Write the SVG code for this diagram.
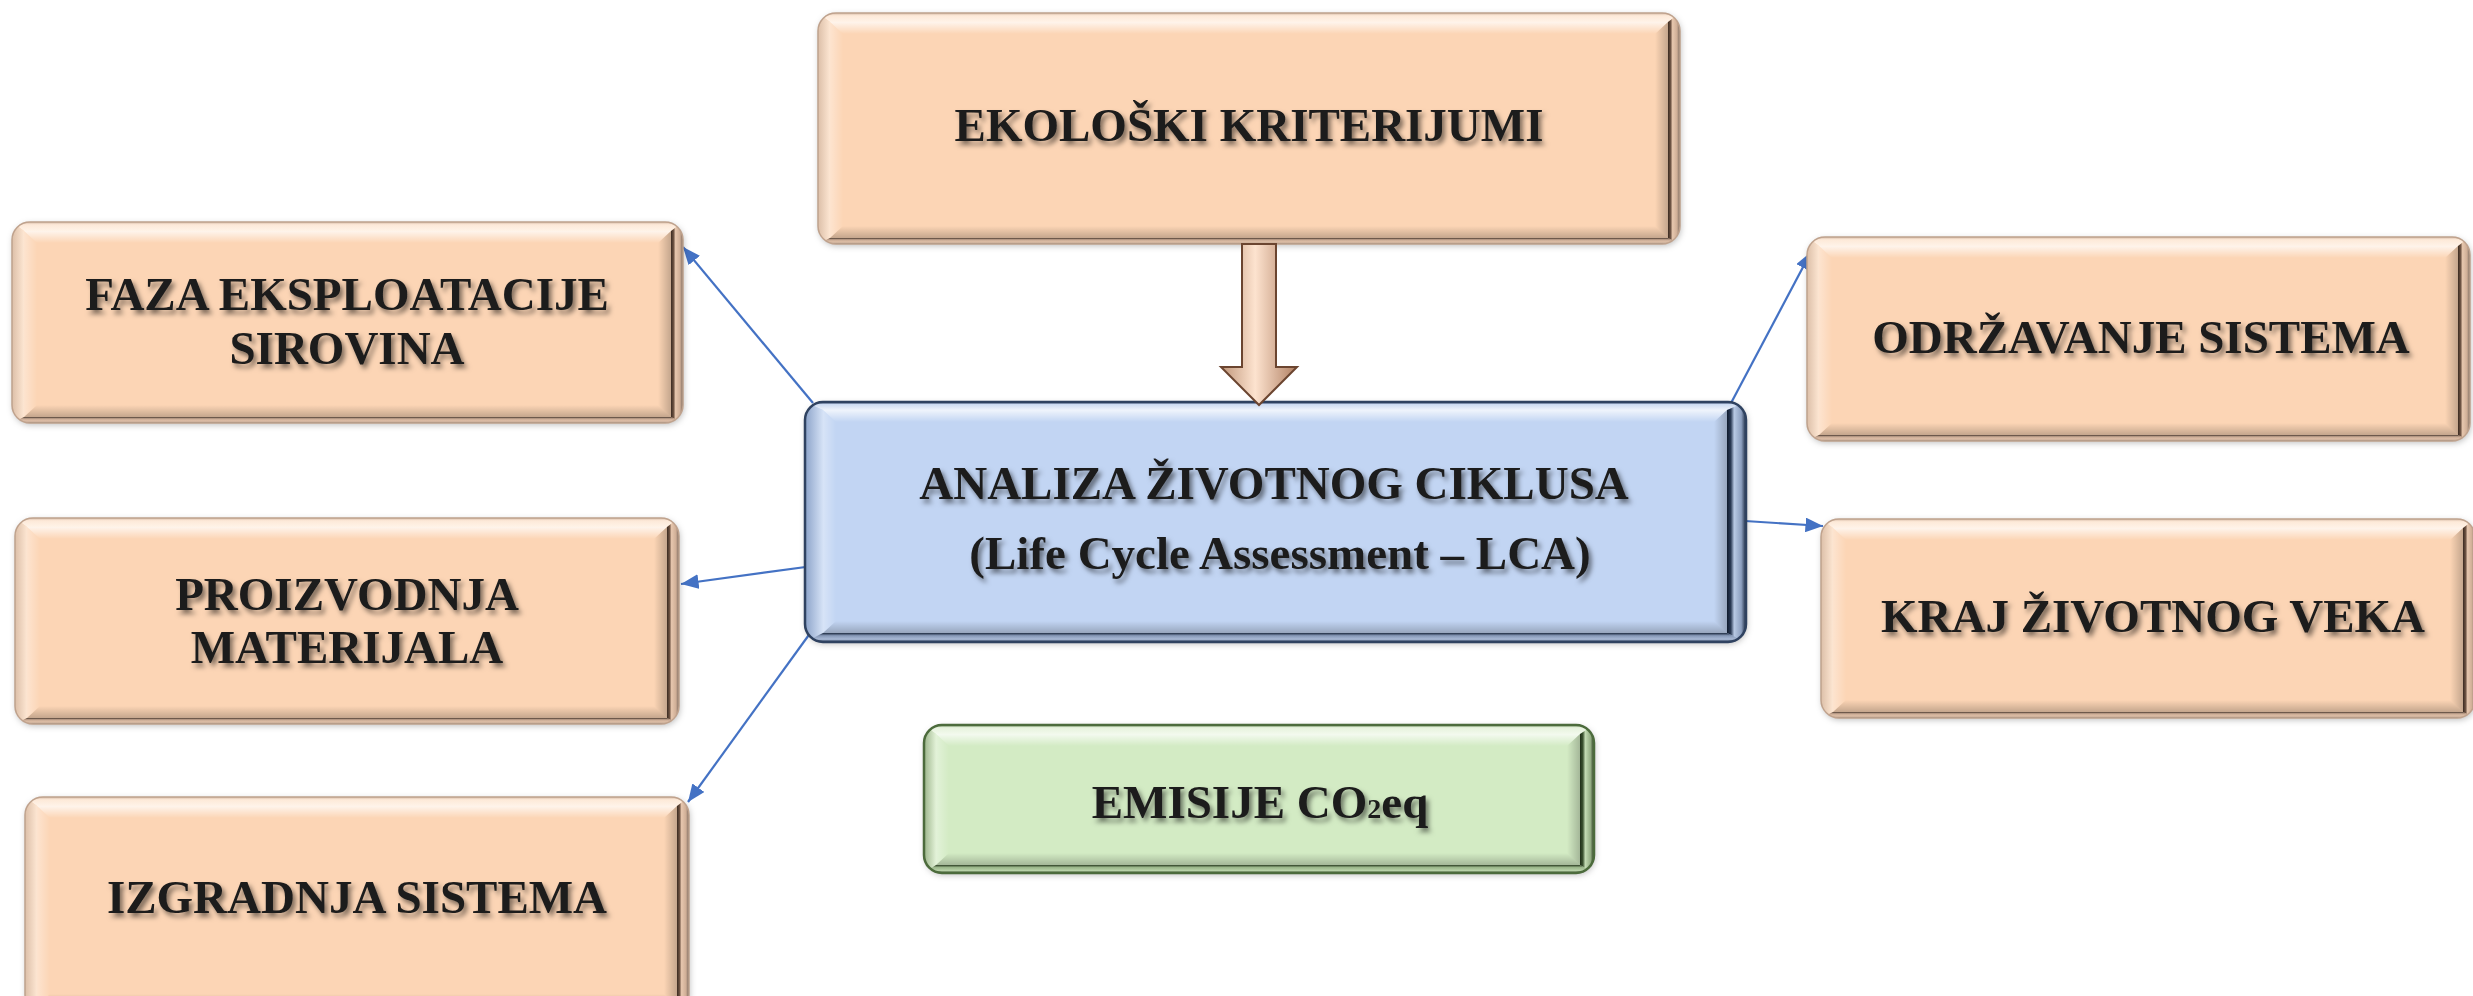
<svg xmlns="http://www.w3.org/2000/svg" width="2473" height="996" viewBox="0 0 2473 996">
  <style>
    .label { font-family: "Liberation Serif", "Times New Roman", serif; font-weight: bold; font-size: 47px; fill: #1b1b1b; text-anchor: middle; filter: url(#textShadow); }
    .link { stroke: #4472C4; stroke-width: 2.2; fill: none; marker-end: url(#arrow); }
    .frame { filter: url(#boxShadow); }
    .it { fill: url(#iTop); } .il { fill: url(#iLeft); }
    .ir { fill: url(#iRight); } .ib { fill: url(#iBottom); }
    .peach .frame, .peach .face { fill: #FCD5B5; }
    .peach .ft { fill: url(#pTop); } .peach .fl { fill: url(#pLeft); }
    .peach .fr { fill: url(#pRight); } .peach .fb { fill: url(#pBottom); }
    .peach .rim { fill: none; stroke: #bfa28d; stroke-width: 1.5; }
    .blue .frame, .blue .face { fill: #C2D5F3; }
    .blue .ft { fill: url(#bTop); } .blue .fl { fill: url(#bLeft); }
    .blue .fr { fill: url(#bRight); } .blue .fb { fill: url(#bBottom); }
    .blue .rim { fill: none; stroke: #2f4260; stroke-width: 2.5; }
    .green .frame, .green .face { fill: #D3EBC4; }
    .green .ft { fill: url(#gTop); } .green .fl { fill: url(#gLeft); }
    .green .fr { fill: url(#gRight); } .green .fb { fill: url(#gBottom); }
    .green .rim { fill: none; stroke: #4c6b3c; stroke-width: 2.5; }
  </style>
  <defs>
    <filter id="textShadow" x="-5%" y="-20%" width="110%" height="150%">
      <feDropShadow dx="3" dy="4" stdDeviation="2.5" flood-color="#000" flood-opacity="0.5"/>
    </filter>
    <filter id="boxShadow" x="-5%" y="-5%" width="110%" height="115%">
      <feDropShadow dx="1" dy="2" stdDeviation="3" flood-color="#000" flood-opacity="0.25"/>
    </filter>
    <marker id="arrow" viewBox="0 0 12 10" refX="12" refY="5" markerWidth="8" markerHeight="6.7" orient="auto" markerUnits="strokeWidth">
      <path d="M0,0 L12,5 L0,10 z" fill="#4472C4"/>
    </marker>
    <!-- inner pillow shading, shared by every colour -->
    <linearGradient id="iTop" x1="0" y1="0" x2="0" y2="1"><stop offset="0" stop-color="#fff" stop-opacity="0.75"/><stop offset="1" stop-color="#fff" stop-opacity="0"/></linearGradient>
    <linearGradient id="iLeft" x1="0" y1="0" x2="1" y2="0"><stop offset="0" stop-color="#fff" stop-opacity="0.35"/><stop offset="1" stop-color="#fff" stop-opacity="0"/></linearGradient>
    <linearGradient id="iRight" x1="0" y1="0" x2="1" y2="0"><stop offset="0" stop-color="#000" stop-opacity="0"/><stop offset="1" stop-color="#000" stop-opacity="0.22"/></linearGradient>
    <linearGradient id="iBottom" x1="0" y1="0" x2="0" y2="1"><stop offset="0" stop-color="#000" stop-opacity="0"/><stop offset="1" stop-color="#000" stop-opacity="0.22"/></linearGradient>
    <!-- bevel faces: peach -->
    <linearGradient id="pTop" x1="0" y1="0" x2="0" y2="1"><stop offset="0" stop-color="#d8bca8"/><stop offset="0.3" stop-color="#fde9d8"/><stop offset="1" stop-color="#fff3e8"/></linearGradient>
    <linearGradient id="pLeft" x1="0" y1="0" x2="1" y2="0"><stop offset="0" stop-color="#dcbfa8"/><stop offset="1" stop-color="#fde6d2"/></linearGradient>
    <linearGradient id="pRight" x1="0" y1="0" x2="1" y2="0"><stop offset="0" stop-color="#3a2a20"/><stop offset="0.22" stop-color="#6e5444"/><stop offset="0.38" stop-color="#e7c7ae"/><stop offset="0.75" stop-color="#cfae96"/><stop offset="1" stop-color="#75655b"/></linearGradient>
    <linearGradient id="pBottom" x1="0" y1="0" x2="0" y2="1"><stop offset="0" stop-color="#4a3a30"/><stop offset="0.3" stop-color="#c9aa94"/><stop offset="0.7" stop-color="#e0c0a8"/><stop offset="1" stop-color="#8a7a70"/></linearGradient>
    <!-- bevel faces: blue -->
    <linearGradient id="bTop" x1="0" y1="0" x2="0" y2="1"><stop offset="0" stop-color="#41567a"/><stop offset="0.3" stop-color="#cddbf1"/><stop offset="1" stop-color="#eef3fb"/></linearGradient>
    <linearGradient id="bLeft" x1="0" y1="0" x2="1" y2="0"><stop offset="0" stop-color="#8ca3c9"/><stop offset="1" stop-color="#d5e2f6"/></linearGradient>
    <linearGradient id="bRight" x1="0" y1="0" x2="1" y2="0"><stop offset="0" stop-color="#0f1a2c"/><stop offset="0.2" stop-color="#2a3a55"/><stop offset="0.38" stop-color="#b8c9e4"/><stop offset="0.75" stop-color="#8c9fbf"/><stop offset="1" stop-color="#1c2a40"/></linearGradient>
    <linearGradient id="bBottom" x1="0" y1="0" x2="0" y2="1"><stop offset="0" stop-color="#1c2a40"/><stop offset="0.3" stop-color="#8799b8"/><stop offset="0.7" stop-color="#a9bad6"/><stop offset="1" stop-color="#2a3a55"/></linearGradient>
    <!-- bevel faces: green -->
    <linearGradient id="gTop" x1="0" y1="0" x2="0" y2="1"><stop offset="0" stop-color="#9cb58b"/><stop offset="0.3" stop-color="#e6f2dd"/><stop offset="1" stop-color="#f2f9ec"/></linearGradient>
    <linearGradient id="gLeft" x1="0" y1="0" x2="1" y2="0"><stop offset="0" stop-color="#9cb58b"/><stop offset="1" stop-color="#e2f1d7"/></linearGradient>
    <linearGradient id="gRight" x1="0" y1="0" x2="1" y2="0"><stop offset="0" stop-color="#1e2d16"/><stop offset="0.2" stop-color="#3b5230"/><stop offset="0.38" stop-color="#c3dbb3"/><stop offset="0.75" stop-color="#93ad83"/><stop offset="1" stop-color="#2b3d22"/></linearGradient>
    <linearGradient id="gBottom" x1="0" y1="0" x2="0" y2="1"><stop offset="0" stop-color="#2b3d22"/><stop offset="0.3" stop-color="#9ab68a"/><stop offset="0.7" stop-color="#b9d2a9"/><stop offset="1" stop-color="#3b5230"/></linearGradient>
    <!-- block arrow shading -->
    <linearGradient id="blockArrow" x1="0" y1="0" x2="1" y2="0"><stop offset="0" stop-color="#c0967a"/><stop offset="0.45" stop-color="#fde3cf"/><stop offset="1" stop-color="#b07f62"/></linearGradient>
    <!-- rounded outlines used to clip the bevels -->
    <clipPath id="c-eko"><rect x="818" y="13" width="862" height="231" rx="18"/></clipPath>
    <clipPath id="c-faza"><rect x="12" y="222" width="671" height="201" rx="18"/></clipPath>
    <clipPath id="c-proiz"><rect x="15" y="518" width="664" height="206" rx="18"/></clipPath>
    <clipPath id="c-izgr"><rect x="25" y="797" width="664" height="215" rx="18"/></clipPath>
    <clipPath id="c-lca"><rect x="805" y="402" width="941" height="240" rx="18"/></clipPath>
    <clipPath id="c-odrz"><rect x="1807" y="237" width="663" height="204" rx="18"/></clipPath>
    <clipPath id="c-kraj"><rect x="1821" y="519" width="654" height="199" rx="18"/></clipPath>
    <clipPath id="c-emis"><rect x="924" y="725" width="670" height="148" rx="18"/></clipPath>
  </defs>

  <rect width="2473" height="996" fill="#ffffff"/>

  <!-- connectors from the central analysis box -->
  <g id="connectors">
    <line class="link" x1="813" y1="403" x2="683" y2="247"/>
    <line class="link" x1="813" y1="566" x2="681" y2="584"/>
    <line class="link" x1="811" y1="632" x2="688" y2="802"/>
    <line class="link" x1="1730" y1="405" x2="1811" y2="252"/>
    <line class="link" x1="1745" y1="521" x2="1823" y2="526"/>
  </g>

  <g id="node-eko" class="node peach">
    <rect class="frame" x="818" y="13" width="862" height="231" rx="18"/>
    <g clip-path="url(#c-eko)">
      <polygon class="ft" points="818,13 1680,13 1668,22 830,22"/>
      <polygon class="fl" points="818,13 830,22 830,238 818,244"/>
      <polygon class="fr" points="1680,13 1680,244 1668,238 1668,22"/>
      <polygon class="fb" points="818,244 1680,244 1668,238 830,238"/>
    </g>
    <rect class="face" x="830" y="22" width="838" height="216"/>
    <polygon class="it" points="830,22 1668,22 1655,34 843,34"/>
    <polygon class="il" points="830,22 843,34 843,226 830,238"/>
    <polygon class="ir" points="1668,22 1668,238 1655,226 1655,34"/>
    <polygon class="ib" points="830,238 1668,238 1655,226 843,226"/>
    <rect class="rim" x="818" y="13" width="862" height="231" rx="18"/>
    <text class="label" x="1249" y="141">EKOLOŠKI KRITERIJUMI</text>
  </g>

  <g id="node-faza" class="node peach">
    <rect class="frame" x="12" y="222" width="671" height="201" rx="18"/>
    <g clip-path="url(#c-faza)">
      <polygon class="ft" points="12,222 683,222 671,231 24,231"/>
      <polygon class="fl" points="12,222 24,231 24,417 12,423"/>
      <polygon class="fr" points="683,222 683,423 671,417 671,231"/>
      <polygon class="fb" points="12,423 683,423 671,417 24,417"/>
    </g>
    <rect class="face" x="24" y="231" width="647" height="186"/>
    <polygon class="it" points="24,231 671,231 658,243 37,243"/>
    <polygon class="il" points="24,231 37,243 37,405 24,417"/>
    <polygon class="ir" points="671,231 671,417 658,405 658,243"/>
    <polygon class="ib" points="24,417 671,417 658,405 37,405"/>
    <rect class="rim" x="12" y="222" width="671" height="201" rx="18"/>
    <text class="label" x="347" y="310">FAZA EKSPLOATACIJE</text>
    <text class="label" x="347" y="364">SIROVINA</text>
  </g>

  <g id="node-proiz" class="node peach">
    <rect class="frame" x="15" y="518" width="664" height="206" rx="18"/>
    <g clip-path="url(#c-proiz)">
      <polygon class="ft" points="15,518 679,518 667,527 27,527"/>
      <polygon class="fl" points="15,518 27,527 27,718 15,724"/>
      <polygon class="fr" points="679,518 679,724 667,718 667,527"/>
      <polygon class="fb" points="15,724 679,724 667,718 27,718"/>
    </g>
    <rect class="face" x="27" y="527" width="640" height="191"/>
    <polygon class="it" points="27,527 667,527 654,539 40,539"/>
    <polygon class="il" points="27,527 40,539 40,706 27,718"/>
    <polygon class="ir" points="667,527 667,718 654,706 654,539"/>
    <polygon class="ib" points="27,718 667,718 654,706 40,706"/>
    <rect class="rim" x="15" y="518" width="664" height="206" rx="18"/>
    <text class="label" x="347" y="610">PROIZVODNJA</text>
    <text class="label" x="347" y="663">MATERIJALA</text>
  </g>

  <g id="node-izgr" class="node peach">
    <rect class="frame" x="25" y="797" width="664" height="215" rx="18"/>
    <g clip-path="url(#c-izgr)">
      <polygon class="ft" points="25,797 689,797 677,806 37,806"/>
      <polygon class="fl" points="25,797 37,806 37,1006 25,1012"/>
      <polygon class="fr" points="689,797 689,1012 677,1006 677,806"/>
      <polygon class="fb" points="25,1012 689,1012 677,1006 37,1006"/>
    </g>
    <rect class="face" x="37" y="806" width="640" height="200"/>
    <polygon class="it" points="37,806 677,806 664,818 50,818"/>
    <polygon class="il" points="37,806 50,818 50,994 37,1006"/>
    <polygon class="ir" points="677,806 677,1006 664,994 664,818"/>
    <polygon class="ib" points="37,1006 677,1006 664,994 50,994"/>
    <rect class="rim" x="25" y="797" width="664" height="215" rx="18"/>
    <text class="label" x="357" y="913">IZGRADNJA SISTEMA</text>
  </g>

  <g id="node-odrz" class="node peach">
    <rect class="frame" x="1807" y="237" width="663" height="204" rx="18"/>
    <g clip-path="url(#c-odrz)">
      <polygon class="ft" points="1807,237 2470,237 2458,246 1819,246"/>
      <polygon class="fl" points="1807,237 1819,246 1819,435 1807,441"/>
      <polygon class="fr" points="2470,237 2470,441 2458,435 2458,246"/>
      <polygon class="fb" points="1807,441 2470,441 2458,435 1819,435"/>
    </g>
    <rect class="face" x="1819" y="246" width="639" height="189"/>
    <polygon class="it" points="1819,246 2458,246 2445,258 1832,258"/>
    <polygon class="il" points="1819,246 1832,258 1832,423 1819,435"/>
    <polygon class="ir" points="2458,246 2458,435 2445,423 2445,258"/>
    <polygon class="ib" points="1819,435 2458,435 2445,423 1832,423"/>
    <rect class="rim" x="1807" y="237" width="663" height="204" rx="18"/>
    <text class="label" x="2141" y="353">ODRŽAVANJE SISTEMA</text>
  </g>

  <g id="node-kraj" class="node peach">
    <rect class="frame" x="1821" y="519" width="654" height="199" rx="18"/>
    <g clip-path="url(#c-kraj)">
      <polygon class="ft" points="1821,519 2475,519 2463,528 1833,528"/>
      <polygon class="fl" points="1821,519 1833,528 1833,712 1821,718"/>
      <polygon class="fr" points="2475,519 2475,718 2463,712 2463,528"/>
      <polygon class="fb" points="1821,718 2475,718 2463,712 1833,712"/>
    </g>
    <rect class="face" x="1833" y="528" width="630" height="184"/>
    <polygon class="it" points="1833,528 2463,528 2450,540 1846,540"/>
    <polygon class="il" points="1833,528 1846,540 1846,700 1833,712"/>
    <polygon class="ir" points="2463,528 2463,712 2450,700 2450,540"/>
    <polygon class="ib" points="1833,712 2463,712 2450,700 1846,700"/>
    <rect class="rim" x="1821" y="519" width="654" height="199" rx="18"/>
    <text class="label" x="2153" y="632">KRAJ ŽIVOTNOG VEKA</text>
  </g>

  <g id="node-lca" class="node blue">
    <rect class="frame" x="805" y="402" width="941" height="240" rx="18"/>
    <g clip-path="url(#c-lca)">
      <polygon class="ft" points="805,402 1746,402 1727,410 823,410"/>
      <polygon class="fl" points="805,402 823,410 823,633 805,642"/>
      <polygon class="fr" points="1746,402 1746,642 1727,633 1727,410"/>
      <polygon class="fb" points="805,642 1746,642 1727,633 823,633"/>
    </g>
    <rect class="face" x="823" y="410" width="904" height="223"/>
    <polygon class="it" points="823,410 1727,410 1714,422 836,422"/>
    <polygon class="il" points="823,410 836,422 836,621 823,633"/>
    <polygon class="ir" points="1727,410 1727,633 1714,621 1714,422"/>
    <polygon class="ib" points="823,633 1727,633 1714,621 836,621"/>
    <rect class="rim" x="805" y="402" width="941" height="240" rx="18"/>
    <text class="label" x="1274" y="499">ANALIZA ŽIVOTNOG CIKLUSA</text>
    <text class="label" x="1280" y="569">(Life Cycle Assessment – LCA)</text>
  </g>

  <!-- block arrow from the criteria box into the analysis box -->
  <g id="block-arrow">
    <polygon points="1242,244 1276,244 1276,367 1297,367 1259,405 1221,367 1242,367" fill="url(#blockArrow)" stroke="#6b4530" stroke-width="2" stroke-linejoin="miter"/>
  </g>

  <g id="node-emis" class="node green">
    <rect class="frame" x="924" y="725" width="670" height="148" rx="18"/>
    <g clip-path="url(#c-emis)">
      <polygon class="ft" points="924,725 1594,725 1580,734 936,734"/>
      <polygon class="fl" points="924,725 936,734 936,865 924,873"/>
      <polygon class="fr" points="1594,725 1594,873 1580,865 1580,734"/>
      <polygon class="fb" points="924,873 1594,873 1580,865 936,865"/>
    </g>
    <rect class="face" x="936" y="734" width="644" height="131"/>
    <polygon class="it" points="936,734 1580,734 1567,746 949,746"/>
    <polygon class="il" points="936,734 949,746 949,853 936,865"/>
    <polygon class="ir" points="1580,734 1580,865 1567,853 1567,746"/>
    <polygon class="ib" points="936,865 1580,865 1567,853 949,853"/>
    <rect class="rim" x="924" y="725" width="670" height="148" rx="18"/>
    <text class="label" x="1260" y="818">EMISIJE CO<tspan font-size="28">2</tspan>eq</text>
  </g>
</svg>
